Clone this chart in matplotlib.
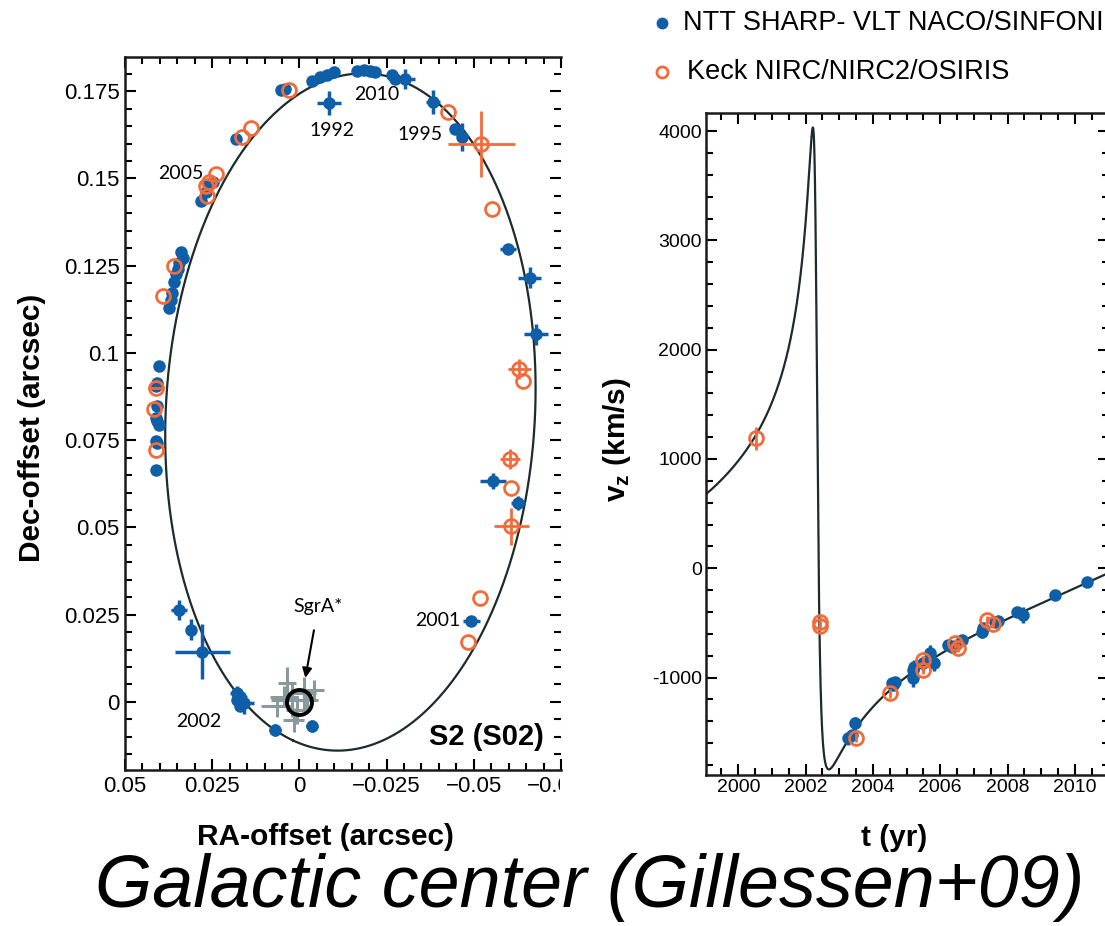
import numpy as np
import matplotlib.pyplot as plt
from matplotlib.lines import Line2D
from matplotlib.ticker import MultipleLocator, FuncFormatter
from matplotlib.transforms import Bbox, TransformedBbox

plt.rcParams['font.family'] = ['Liberation Sans', 'DejaVu Sans']
plt.rcParams['mathtext.fontset'] = 'custom'
plt.rcParams['mathtext.rm'] = 'Liberation Sans'
plt.rcParams['mathtext.bf'] = 'Liberation Sans:bold'

BLUE = '#0e5fa8'
ORANGE = '#f26b3a'
GREY = '#8a9a9c'
CURVE = '#1c2b2b'

# S2 orbital elements (Gillessen+09)
a_arcsec = 0.1246
ecc = 0.8831
inc_deg = 134.87
node_deg = 226.53
peri_deg = 64.98
t_peri = 2002.32
period = 15.9
r0_kpc = 8.33

# astrometry: NTT/VLT (blue)
vlt_ra = [-0.0036, -0.0060, -0.0079, -0.0098, -0.0165, -0.0184, -0.0203, -0.0217, -0.0265, -0.0274,
          -0.0303, -0.0084, -0.0384, -0.0446, -0.0465, 0.0054, 0.0040, 0.0183, 0.0283, 0.0269,
          0.0259, 0.0249, 0.0340, 0.0335, 0.0345, 0.0349, 0.0354, 0.0359, 0.0364, 0.0369,
          0.0373, 0.0402, 0.0407, 0.0411, 0.0407, 0.0411, 0.0407, 0.0402, 0.0411, 0.0407,
          0.0411, -0.0598, -0.0660, -0.0679, -0.0555, -0.0627, -0.0493, 0.0345, 0.0311, 0.0278,
          0.0178, 0.0169, 0.0178, 0.0159, 0.0169, 0.0069, -0.0036]
vlt_dec = [0.1780, 0.1790, 0.1795, 0.1804, 0.1809, 0.1811, 0.1809, 0.1804, 0.1795, 0.1785,
           0.1785, 0.1717, 0.1718, 0.1642, 0.1618, 0.1752, 0.1757, 0.1613, 0.1436, 0.1460,
           0.1484, 0.1489, 0.1288, 0.1273, 0.1259, 0.1240, 0.1225, 0.1202, 0.1173, 0.1153,
           0.1130, 0.0962, 0.0915, 0.0905, 0.0848, 0.0814, 0.0804, 0.0792, 0.0747, 0.0742,
           0.0664, 0.1299, 0.1216, 0.1053, 0.0634, 0.0570, 0.0233, 0.0264, 0.0207, 0.0144,
           0.0025, 0.0015, 0.0006, -0.0004, -0.0013, -0.0080, -0.0069]
vlt_ra_err = [0, 0, 0, 0, 0, 0, 0, 0, 0, 0,
              0.0029, 0.0034, 0.0020, 0.0015, 0.0010, 0, 0, 0, 0, 0,
              0, 0, 0, 0, 0, 0, 0, 0, 0, 0,
              0, 0, 0, 0, 0, 0, 0, 0, 0, 0,
              0, 0.0023, 0.0034, 0.0034, 0.0037, 0.0020, 0.0024, 0.0024, 0.0015, 0.0080,
              0.0020, 0.0020, 0.0010, 0.0030, 0.0010, 0.0017, 0.0017]
vlt_dec_err = [0, 0, 0, 0, 0, 0, 0, 0, 0, 0,
               0.0029, 0.0034, 0.0034, 0.0015, 0.0040, 0, 0, 0, 0, 0,
               0, 0, 0, 0, 0, 0, 0, 0, 0, 0,
               0, 0, 0, 0, 0, 0, 0, 0, 0, 0,
               0, 0.0010, 0.0029, 0.0029, 0.0023, 0.0020, 0.0010, 0.0029, 0.0030, 0.0078,
               0.0020, 0.0020, 0.0010, 0.0030, 0.0010, 0.0017, 0.0017]

# astrometry: Keck (orange)
keck_ra = [0.0031, 0.0140, 0.0164, 0.0240, 0.0259, 0.0269, 0.0264, -0.0427, -0.0522, -0.0551,
           0.0392, 0.0359, 0.0411, 0.0416, 0.0411, -0.0631, -0.0641, -0.0603, -0.0608, -0.0608,
           -0.0517, -0.0484]
keck_dec = [0.1752, 0.1643, 0.1618, 0.1512, 0.1489, 0.1479, 0.1450, 0.1690, 0.1599, 0.1412,
            0.1163, 0.1249, 0.0900, 0.0838, 0.0723, 0.0953, 0.0919, 0.0695, 0.0613, 0.0503,
            0.0298, 0.0173]
keck_ra_err = [0, 0, 0, 0, 0, 0, 0, 0, 0.0095, 0,
               0, 0, 0.0024, 0, 0, 0.0034, 0, 0.0029, 0, 0.0049,
               0, 0]
keck_dec_err = [0, 0, 0, 0, 0, 0, 0, 0, 0.0095, 0,
                0, 0, 0, 0, 0, 0.0029, 0, 0.0029, 0, 0.0052,
                0, 0]

# SgrA* flare positions (grey)
flare_ra = [0.0045, 0.0021, 0.0007, -0.0012, -0.0041, 0.0035, 0.0064, 0.0016, -0.0022]
flare_dec = [0.0015, 0.0006, -0.0023, 0.0025, 0.0034, 0.0054, -0.0013, -0.0052, 0.0006]
flare_ra_err = [0.0040, 0.0060, 0.0030, 0.0035, 0.0030, 0.0025, 0.0045, 0.0030, 0.0030]
flare_dec_err = [0.0030, 0.0050, 0.0040, 0.0045, 0.0030, 0.0045, 0.0030, 0.0035, 0.0025]

# epoch labels
year_labels = ['2010', '1992', '1995', '2005', '2001', '2002']
year_ra = [-0.0222, -0.0093, -0.0346, 0.0340, -0.0398, 0.0288]
year_dec = [0.1739, 0.1637, 0.1627, 0.1514, 0.0233, -0.0057]

# radial velocities
vlt_t = [2003.27, 2003.37, 2003.47, 2004.56, 2004.60, 2004.66, 2005.20, 2005.20, 2005.22, 2005.50,
         2005.70, 2005.80, 2006.24, 2006.34, 2006.64, 2007.23, 2007.28, 2007.63, 2007.73, 2008.27,
         2008.47, 2009.41, 2010.35]
vlt_vz = [-1555, -1525, -1418, -1050, -1068, -1037, -1006, -930, -900, -869,
          -778, -869, -702, -717, -656, -580, -549, -489, -480, -397,
          -427, -244, -122]
vlt_vz_err = [60, 50, 60, 40, 40, 40, 80, 70, 60, 70,
              80, 70, 40, 60, 50, 60, 50, 50, 40, 40,
              70, 40, 40]
keck_t = [2000.52, 2002.43, 2002.43, 2003.50, 2004.50, 2005.48, 2005.48, 2006.44, 2006.54, 2007.40, 2007.58]
keck_vz = [1189, -490, -530, -1550, -1144, -839, -930, -686, -726, -473, -510]
keck_vz_err = [107, 40, 40, 40, 40, 40, 40, 40, 40, 40, 40]


def solve_kepler(M, e):
    M = np.mod(M + np.pi, 2 * np.pi) - np.pi
    E = M + 0.85 * e * np.sign(np.sin(M))
    for _ in range(60):
        E = E - (E - e * np.sin(E) - M) / (1 - e * np.cos(E))
    return E


w = np.radians(peri_deg)
W = np.radians(node_deg)
inc = np.radians(inc_deg)
TA = np.cos(w) * np.cos(W) - np.sin(w) * np.sin(W) * np.cos(inc)
TB = np.cos(w) * np.sin(W) + np.sin(w) * np.cos(W) * np.cos(inc)
TF = -np.sin(w) * np.cos(W) - np.cos(w) * np.sin(W) * np.cos(inc)
TG = -np.sin(w) * np.sin(W) + np.cos(w) * np.cos(W) * np.cos(inc)

# sky orbit
E_orb = np.linspace(0, 2 * np.pi, 1500)
X = np.cos(E_orb) - ecc
Y = np.sqrt(1 - ecc**2) * np.sin(E_orb)
orb_dec = a_arcsec * (TA * X + TF * Y)
orb_ra = a_arcsec * (TB * X + TG * Y)

# radial velocity curve
t_mod = np.linspace(1998.9, 2011.2, 30000)
n_mean = 2 * np.pi / period
E_t = solve_kepler(n_mean * (t_mod - t_peri), ecc)
K = a_arcsec * r0_kpc * 1000 * n_mean * 4.7405 * np.sin(inc)
vz_mod = K * (-np.sin(w) * np.sin(E_t) + np.cos(w) * np.sqrt(1 - ecc**2) * np.cos(E_t)) / (1 - ecc * np.cos(E_t))

fig = plt.figure(figsize=(11.05, 9.26), dpi=100)
ax1 = fig.add_axes([125 / 1105, 0.1685, 436 / 1105, 0.7700])
ax2 = fig.add_axes([0.6389, 0.1631, 0.3643, 0.7149])

# ---- left panel: orbit on the sky
ax1.plot(orb_ra, orb_dec, color=CURVE, lw=1.6, zorder=2)
ax1.errorbar(flare_ra, flare_dec, xerr=flare_ra_err, yerr=flare_dec_err, fmt='none',
             ecolor=GREY, elinewidth=2.2, zorder=3)
ax1.errorbar(vlt_ra, vlt_dec, xerr=vlt_ra_err, yerr=vlt_dec_err, fmt='o', color=BLUE,
             ms=8, elinewidth=2.5, capsize=0, zorder=4)
ax1.errorbar(keck_ra, keck_dec, xerr=keck_ra_err, yerr=keck_dec_err, fmt='o', color=ORANGE,
             mfc='none', mec=ORANGE, mew=2, ms=10, elinewidth=2, capsize=0, zorder=5)
ax1.plot([0], [0], 'o', mfc='none', mec='black', mew=2.8, ms=18, zorder=6)
ax1.annotate('SgrA*', xy=(-0.0017, 0.0069), xytext=(-0.0054, 0.0273), ha='center', va='center',
             fontsize=14, family='Lato',
             arrowprops=dict(arrowstyle='-|>', color='black', lw=1.5, shrinkA=9, shrinkB=0,
                             mutation_scale=14))
for lab, xr, yd in zip(year_labels, year_ra, year_dec):
    ax1.text(xr, yd, lab, ha='center', va='center', fontsize=14, family='Lato')
ax1.text(-0.0536, -0.0100, 'S2 (S02)', ha='center', va='center', fontsize=21, fontweight='bold')

ax1.set_xlim(0.05, -0.075)
ax1.set_ylim(-0.0195, 0.1848)
ax1.xaxis.set_major_locator(MultipleLocator(0.025))
ax1.xaxis.set_minor_locator(MultipleLocator(0.005))
ax1.yaxis.set_major_locator(MultipleLocator(0.025))
ax1.yaxis.set_minor_locator(MultipleLocator(0.005))
ax1.xaxis.set_major_formatter(FuncFormatter(lambda v, p: ('%g' % round(v, 4)).replace('-', '\u2212')))
ax1.yaxis.set_major_formatter(FuncFormatter(lambda v, p: '%g' % round(v, 4)))
ax1.tick_params(which='both', direction='in', top=True, right=True, labelsize=16, width=1.5, pad=4)
ax1.tick_params(which='major', length=8)
ax1.tick_params(which='minor', length=5)
ax1.spines['right'].set_visible(False)

# ---- right panel: radial velocity
ax2.plot(t_mod, vz_mod, color=CURVE, lw=1.6, zorder=2)
ax2.errorbar(vlt_t, vlt_vz, yerr=vlt_vz_err, fmt='o', color=BLUE, ms=8, elinewidth=2.5,
             capsize=0, zorder=4)
ax2.errorbar(keck_t, keck_vz, yerr=keck_vz_err, fmt='o', color=ORANGE, mfc='none', mec=ORANGE,
             mew=2, ms=10, elinewidth=2, capsize=0, zorder=5)
ax2.set_xlim(1999.04, 2011.0)
ax2.set_ylim(-1891, 4166)
ax2.xaxis.set_major_locator(MultipleLocator(2))
ax2.xaxis.set_minor_locator(MultipleLocator(0.5))
ax2.yaxis.set_major_locator(MultipleLocator(1000))
ax2.yaxis.set_minor_locator(MultipleLocator(200))
ax2.yaxis.set_major_formatter(FuncFormatter(lambda v, p: '%d' % v))
ax2.tick_params(which='both', direction='in', top=True, right=True, labelsize=14, width=1.5, pad=3)
ax2.tick_params(which='major', length=8)
ax2.tick_params(which='minor', length=5)

for ax in (ax1, ax2):
    for s in ax.spines.values():
        s.set_linewidth(1.8)
        s.set_color('#1a1a1a')

# axis labels
fig.text(325 / 1105, 1 - 837 / 926, 'RA-offset (arcsec)', ha='center', va='center',
         fontsize=21.5, fontweight='bold')
fig.text(32 / 1105, 1 - 428 / 926, 'Dec-offset (arcsec)', ha='center', va='center',
         rotation=90, fontsize=21.5, fontweight='bold')
fig.text(894 / 1105, 1 - 838 / 926, 't (yr)', ha='center', va='center',
         fontsize=21.5, fontweight='bold')
fig.text(617 / 1105, 1 - 440 / 926, r'$\mathbf{v_z}$ (km/s)', ha='center', va='center',
         rotation=90, fontsize=21.5, fontweight='bold')

# legend at top
fig.add_artist(Line2D([662 / 1105], [1 - 23 / 926], marker='o', color=BLUE, ms=7.5,
                      transform=fig.transFigure))
fig.text(683 / 1105, 1 - 23 / 926, 'NTT SHARP- VLT NACO/SINFONI', ha='left', va='center', fontsize=19.5)
fig.add_artist(Line2D([662 / 1105], [1 - 72 / 926], marker='o', mfc='none', mec=ORANGE, mew=2,
                      ms=8, transform=fig.transFigure))
fig.text(687 / 1105, 1 - 72 / 926, 'Keck NIRC/NIRC2/OSIRIS', ha='left', va='center', fontsize=19.5)

fig.text(590 / 1105, 1 - 907 / 926, 'Galactic center (Gillessen+09)', ha='center', va='baseline',
         fontsize=53, style='italic')

# the left panel is cut at its right edge, as in the source figure
fig.canvas.draw()
cut = TransformedBbox(Bbox([[0, 0], [560 / 1105, 1]]), fig.transFigure)
for tk in ax1.xaxis.get_major_ticks():
    tk.label1.set_clip_box(cut)
    tk.label1.set_clip_on(True)

fig.savefig('out.png', dpi=100)
